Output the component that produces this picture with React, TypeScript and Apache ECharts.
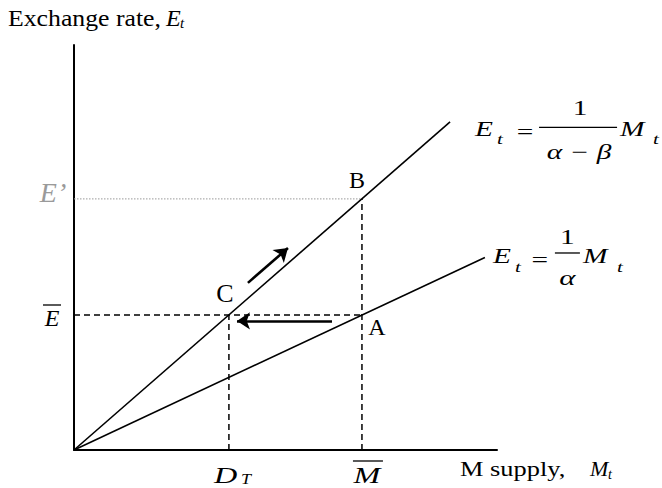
import React, { useEffect, useRef } from "react";
import * as echarts from "echarts";

// Money supply / exchange rate levels
const M_BAR = 10;
const E_BAR = 5;
const E_PRIME = 9.3;
const D_T = 5.38;

// Schedules through the origin: E = M/(α−β) (steep) and E = M/α (flat)
const steepLine: number[][] = [[0, 0], [13.06, 12.15]];
const shallowLine: number[][] = [[0, 0], [14.27, 7.13]];

// Adjustment arrows
const arrowAtoC: number[][] = [[8.96, 4.78], [5.66, 4.78]];
const arrowCtoB: number[][] = [[6.04, 6.19], [7.43, 7.48]];

const X_MAX = 14.69;
const Y_MAX = 15;

const BLACK = "#000";
const GREY = "#9a9a9a";
const SERIF = "Liberation Serif";

type TxtOpts = { italic?: boolean; fill?: string; align?: string; sx?: number };

function txt(text: string, x: number, y: number, size: number, o: TxtOpts = {}) {
  const align = o.align ?? "left";
  return {
    type: "text",
    x,
    y,
    scaleX: o.sx ?? 1,
    silent: true,
    style: {
      text,
      fill: o.fill ?? BLACK,
      fontFamily: SERIF,
      fontSize: size,
      fontStyle: o.italic ? "italic" : "normal",
      fontWeight: "normal",
      textAlign: align,
      align,
      textVerticalAlign: "middle",
      verticalAlign: "middle",
    },
  };
}

function hline(x1: number, x2: number, y: number, w = 1.3) {
  return {
    type: "line",
    silent: true,
    shape: { x1, y1: y, x2, y2: y },
    style: { stroke: BLACK, lineWidth: w },
  };
}

const dashed = { color: BLACK, width: 1.5, type: [6, 4] as number[] };

export default function App() {
  const ref = useRef<HTMLDivElement>(null);

  useEffect(() => {
    if (!ref.current) return;
    const chart = echarts.init(ref.current, undefined, { renderer: "svg" });

    const segment = (data: number[][], lineStyle: object) => ({
      type: "line",
      data,
      symbol: "none",
      showSymbol: false,
      silent: true,
      lineStyle,
    });

    chart.setOption({
      animation: false,
      backgroundColor: "#fff",
      grid: { left: 74, right: 165, top: 45, bottom: 38 },
      xAxis: {
        type: "value",
        min: 0,
        max: X_MAX,
        axisLine: { show: true, onZero: false, lineStyle: { color: BLACK, width: 2 } },
        axisTick: { show: false },
        axisLabel: { show: false },
        splitLine: { show: false },
      },
      yAxis: {
        type: "value",
        min: 0,
        max: Y_MAX,
        axisLine: { show: true, onZero: false, lineStyle: { color: BLACK, width: 2 } },
        axisTick: { show: false },
        axisLabel: { show: false },
        splitLine: { show: false },
      },
      series: [
        segment([[0, E_PRIME], [M_BAR, E_PRIME]], { color: GREY, width: 1, type: [1.5, 1.5] }),
        segment([[0, E_BAR], [M_BAR, E_BAR]], dashed),
        segment([[D_T, 0], [D_T, E_BAR]], dashed),
        segment([[M_BAR, 0], [M_BAR, E_PRIME]], dashed),
        segment(steepLine, { color: BLACK, width: 1.6 }),
        segment(shallowLine, { color: BLACK, width: 1.6 }),
        {
          type: "line",
          data: [],
          silent: true,
          markLine: {
            silent: true,
            animation: false,
            symbol: ["none", "arrow"],
            symbolSize: 13,
            label: { show: false },
            lineStyle: { color: BLACK, width: 2.6, type: "solid" },
            data: [
              [{ coord: arrowAtoC[0] }, { coord: arrowAtoC[1] }],
              [{ coord: arrowCtoB[0] }, { coord: arrowCtoB[1] }],
            ],
          },
        },
      ],
    });

    const px = (p: number[]) => chart.convertToPixel({ gridIndex: 0 }, p) as number[];
    const A = px([M_BAR, E_BAR]);
    const B = px([M_BAR, E_PRIME]);
    const C = px([D_T, E_BAR]);
    const O = px([0, 0]);
    const steepEnd = px(steepLine[1]);
    const shallowEnd = px(shallowLine[1]);

    const SX = 1.4;
    const e1x = steepEnd[0] + 25;
    const e1y = steepEnd[1] + 7;
    const e2x = shallowEnd[0] + 8;
    const e2y = shallowEnd[1] - 1;

    const graphic = [
      // axis titles
      txt("Exchange rate, ", 8, 18, 23, { sx: 1.12 }),
      txt("E", 166, 18, 23, { italic: true, sx: 1.05 }),
      txt("t", 180, 23, 15, { italic: true }),
      txt("M supply, ", 460, 469, 20, { sx: 1.32 }),
      txt("M", 590, 469, 20, { italic: true, sx: 1.1 }),
      txt("t", 608, 474, 14, { italic: true }),

      // point labels
      txt("A", A[0] + 15, A[1] + 12, 24, { align: "center" }),
      txt("B", B[0] - 5, B[1] - 19, 24, { align: "center" }),
      txt("C", C[0] - 4, C[1] - 22, 26, { align: "center" }),

      // vertical-axis marks
      txt("E’", O[0] - 21, B[1] - 6, 28, { italic: true, fill: GREY, align: "center" }),
      txt("E", O[0] - 22, A[1] + 3, 24, { italic: true, align: "center" }),
      hline(O[0] - 31, O[0] - 13, A[1] - 10),

      // horizontal-axis marks
      txt("D", C[0] - 15, O[1] + 25, 23, { italic: true, sx: 1.4 }),
      txt("T", C[0] + 12, O[1] + 29, 15, { italic: true, sx: 1.2 }),
      txt("M", A[0] + 5, O[1] + 25, 23, { italic: true, align: "center", sx: 1.4 }),
      hline(A[0] - 9, A[0] + 21, O[1] + 11),

      // E_t = 1/(α−β) M_t
      txt("E", e1x, e1y, 21, { italic: true, sx: SX }),
      txt("t", e1x + 22, e1y + 10.5, 15, { italic: true, sx: SX }),
      txt("=", e1x + 50, e1y + 3.5, 21, { align: "center", sx: SX }),
      hline(e1x + 64, e1x + 142, e1y - 1.5),
      txt("1", e1x + 105, e1y - 21, 21, { align: "center", sx: SX }),
      txt("α − β", e1x + 104, e1y + 23.5, 21, { italic: true, align: "center", sx: SX }),
      txt("M", e1x + 145, e1y, 21, { italic: true, sx: SX }),
      txt("t", e1x + 178, e1y + 10.5, 15, { italic: true, sx: SX }),

      // E_t = 1/α M_t
      txt("E", e2x, e2y, 21, { italic: true, sx: SX }),
      txt("t", e2x + 22, e2y + 11, 15, { italic: true, sx: SX }),
      txt("=", e2x + 47, e2y + 3.5, 21, { align: "center", sx: SX }),
      hline(e2x + 62, e2x + 87, e2y - 3.5),
      txt("1", e2x + 74.5, e2y - 19, 21, { align: "center", sx: SX }),
      txt("α", e2x + 74.5, e2y + 21.5, 22, { italic: true, align: "center", sx: SX }),
      txt("M", e2x + 90, e2y, 21, { italic: true, sx: SX }),
      txt("t", e2x + 124, e2y + 11, 15, { italic: true, sx: SX }),
    ];

    chart.setOption({ graphic });

    return () => chart.dispose();
  }, []);

  return (
    <div
      ref={ref}
      style={{ position: "absolute", left: 0, top: 0, width: 662, height: 488 }}
    />
  );
}
